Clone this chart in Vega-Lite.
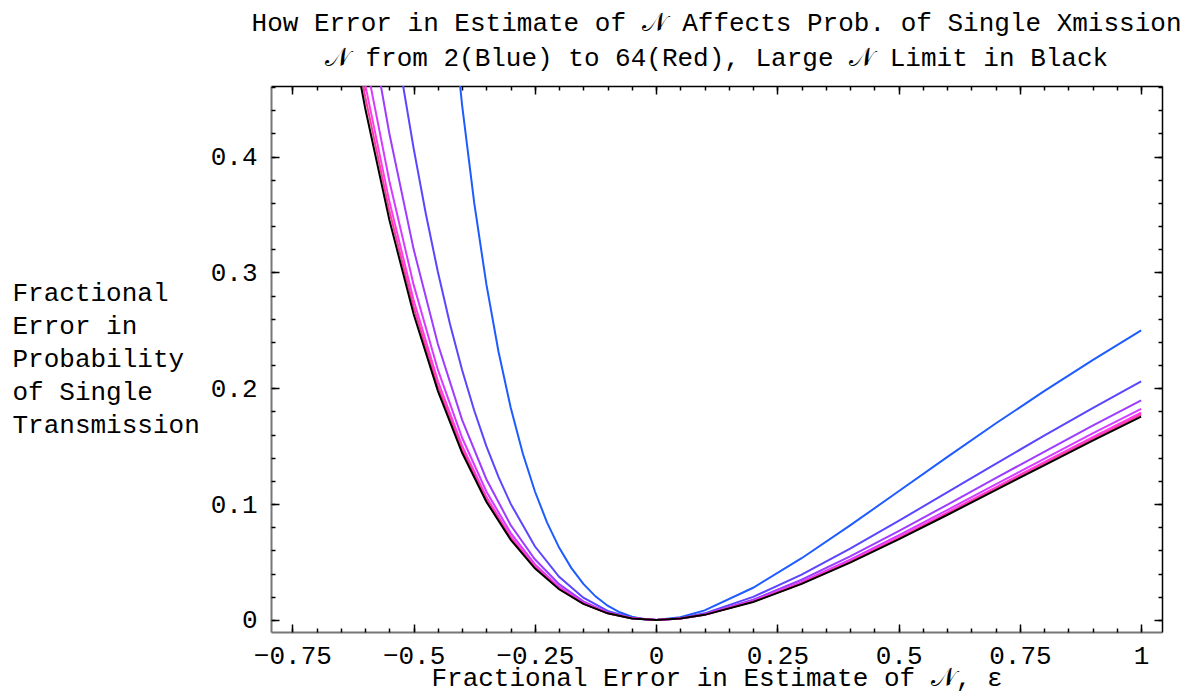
{
  "$schema": "https://vega.github.io/schema/vega-lite/v6.json",
  "width": 891,
  "height": 546,
  "autosize": {"type": "none"},
  "padding": {"left": 271, "top": 86, "right": 24, "bottom": 63},
  "background": "white",
  "config": {
    "view": {"stroke": null},
    "axis": {
      "labelFont": "Liberation Mono", "labelFontSize": 26, "labelColor": "black",
      "titleFont": "Liberation Mono", "titleFontSize": 26, "titleFontWeight": "normal", "titleColor": "black",
      "tickColor": "black", "tickWidth": 1.5, "grid": false, "domainColor": "black",
      "labelFlush": false, "labelOverlap": false, "labelBound": false
    }
  },
  "title": {
    "text": ["How Error in Estimate of 𝒩 Affects Prob. of Single Xmission", "𝒩 from 2(Blue) to 64(Red), Large 𝒩 Limit in Black"],
    "font": "Liberation Mono", "fontSize": 26, "fontWeight": "normal", "color": "black",
    "lineHeight": 35, "anchor": "middle", "offset": 14
  },
  "data": {"values": [
    {"N":"2","eps":-0.45,"err":0.6694},{"N":"2","eps":-0.425,"err":0.5463},{"N":"2","eps":-0.4,"err":0.4444},{"N":"2","eps":-0.375,"err":0.36},
    {"N":"2","eps":-0.35,"err":0.2899},{"N":"2","eps":-0.325,"err":0.2318},{"N":"2","eps":-0.3,"err":0.1837},{"N":"2","eps":-0.275,"err":0.1439},
    {"N":"2","eps":-0.25,"err":0.1111},{"N":"2","eps":-0.225,"err":0.0843},{"N":"2","eps":-0.2,"err":0.0625},{"N":"2","eps":-0.175,"err":0.045},
    {"N":"2","eps":-0.15,"err":0.0311},{"N":"2","eps":-0.125,"err":0.0204},{"N":"2","eps":-0.1,"err":0.0123},{"N":"2","eps":-0.075,"err":0.0066},
    {"N":"2","eps":-0.05,"err":0.0028},{"N":"2","eps":-0.025,"err":0.0007},{"N":"2","eps":0,"err":0},{"N":"2","eps":0.05,"err":0.0023},
    {"N":"2","eps":0.1,"err":0.0083},{"N":"2","eps":0.2,"err":0.0278},{"N":"2","eps":0.3,"err":0.0533},{"N":"2","eps":0.4,"err":0.0816},
    {"N":"2","eps":0.5,"err":0.1111},{"N":"2","eps":0.6,"err":0.1406},{"N":"2","eps":0.7,"err":0.1696},{"N":"2","eps":0.8,"err":0.1975},
    {"N":"2","eps":0.9,"err":0.2244},{"N":"2","eps":1,"err":0.25},

    {"N":"4","eps":-0.55,"err":0.5376},{"N":"4","eps":-0.525,"err":0.4696},{"N":"4","eps":-0.5,"err":0.4074},{"N":"4","eps":-0.475,"err":0.3511},
    {"N":"4","eps":-0.45,"err":0.3006},{"N":"4","eps":-0.425,"err":0.2556},{"N":"4","eps":-0.4,"err":0.2158},{"N":"4","eps":-0.375,"err":0.1808},
    {"N":"4","eps":-0.35,"err":0.1501},{"N":"4","eps":-0.325,"err":0.1235},{"N":"4","eps":-0.3,"err":0.1004},{"N":"4","eps":-0.25,"err":0.0636},
    {"N":"4","eps":-0.2,"err":0.0372},{"N":"4","eps":-0.15,"err":0.0192},{"N":"4","eps":-0.1,"err":0.0078},{"N":"4","eps":-0.05,"err":0.0018},
    {"N":"4","eps":0,"err":0},{"N":"4","eps":0.05,"err":0.0015},{"N":"4","eps":0.1,"err":0.0057},{"N":"4","eps":0.2,"err":0.0199},
    {"N":"4","eps":0.3,"err":0.0392},{"N":"4","eps":0.4,"err":0.0616},{"N":"4","eps":0.5,"err":0.0855},{"N":"4","eps":0.6,"err":0.1101},
    {"N":"4","eps":0.7,"err":0.1348},{"N":"4","eps":0.8,"err":0.1591},{"N":"4","eps":0.9,"err":0.1829},{"N":"4","eps":1,"err":0.206},

    {"N":"8","eps":-0.65,"err":0.6699},{"N":"8","eps":-0.6,"err":0.5378},{"N":"8","eps":-0.55,"err":0.42},{"N":"8","eps":-0.5,"err":0.3202},
    {"N":"8","eps":-0.45,"err":0.2383},{"N":"8","eps":-0.4,"err":0.1728},{"N":"8","eps":-0.35,"err":0.1215},{"N":"8","eps":-0.3,"err":0.082},
    {"N":"8","eps":-0.25,"err":0.0524},{"N":"8","eps":-0.2,"err":0.0309},{"N":"8","eps":-0.15,"err":0.0161},{"N":"8","eps":-0.1,"err":0.0066},
    {"N":"8","eps":-0.05,"err":0.0015},{"N":"8","eps":0,"err":0},{"N":"8","eps":0.05,"err":0.0013},{"N":"8","eps":0.1,"err":0.005},
    {"N":"8","eps":0.2,"err":0.0175},{"N":"8","eps":0.3,"err":0.0347},{"N":"8","eps":0.4,"err":0.0549},{"N":"8","eps":0.5,"err":0.0767},
    {"N":"8","eps":0.6,"err":0.0994},{"N":"8","eps":0.7,"err":0.1224},{"N":"8","eps":0.8,"err":0.1452},{"N":"8","eps":0.9,"err":0.1677},
    {"N":"8","eps":1,"err":0.1896},

    {"N":"16","eps":-0.65,"err":0.6065},{"N":"16","eps":-0.6,"err":0.4853},{"N":"16","eps":-0.55,"err":0.379},{"N":"16","eps":-0.5,"err":0.2895},
    {"N":"16","eps":-0.45,"err":0.2161},{"N":"16","eps":-0.4,"err":0.1573},{"N":"16","eps":-0.35,"err":0.1109},{"N":"16","eps":-0.3,"err":0.0752},
    {"N":"16","eps":-0.25,"err":0.0482},{"N":"16","eps":-0.2,"err":0.0285},{"N":"16","eps":-0.15,"err":0.0149},{"N":"16","eps":-0.1,"err":0.0061},
    {"N":"16","eps":-0.05,"err":0.0014},{"N":"16","eps":0,"err":0},{"N":"16","eps":0.05,"err":0.0012},{"N":"16","eps":0.1,"err":0.0047},
    {"N":"16","eps":0.2,"err":0.0164},{"N":"16","eps":0.3,"err":0.0328},{"N":"16","eps":0.4,"err":0.052},{"N":"16","eps":0.5,"err":0.073},
    {"N":"16","eps":0.6,"err":0.0948},{"N":"16","eps":0.7,"err":0.117},{"N":"16","eps":0.8,"err":0.1391},{"N":"16","eps":0.9,"err":0.161},
    {"N":"16","eps":1,"err":0.1823},

    {"N":"32","eps":-0.65,"err":0.5791},{"N":"32","eps":-0.6,"err":0.4627},{"N":"32","eps":-0.55,"err":0.3614},{"N":"32","eps":-0.5,"err":0.2763},
    {"N":"32","eps":-0.45,"err":0.2065},{"N":"32","eps":-0.4,"err":0.1505},{"N":"32","eps":-0.35,"err":0.1063},{"N":"32","eps":-0.3,"err":0.0722},
    {"N":"32","eps":-0.25,"err":0.0463},{"N":"32","eps":-0.2,"err":0.0275},{"N":"32","eps":-0.15,"err":0.0144},{"N":"32","eps":-0.1,"err":0.0059},
    {"N":"32","eps":-0.05,"err":0.0014},{"N":"32","eps":0,"err":0},{"N":"32","eps":0.05,"err":0.0012},{"N":"32","eps":0.1,"err":0.0045},
    {"N":"32","eps":0.2,"err":0.016},{"N":"32","eps":0.3,"err":0.0319},{"N":"32","eps":0.4,"err":0.0507},{"N":"32","eps":0.5,"err":0.0712},
    {"N":"32","eps":0.6,"err":0.0927},{"N":"32","eps":0.7,"err":0.1145},{"N":"32","eps":0.8,"err":0.1363},{"N":"32","eps":0.9,"err":0.1578},
    {"N":"32","eps":1,"err":0.1789},

    {"N":"64","eps":-0.65,"err":0.5662},{"N":"64","eps":-0.6,"err":0.4522},{"N":"64","eps":-0.55,"err":0.3532},{"N":"64","eps":-0.5,"err":0.2701},
    {"N":"64","eps":-0.45,"err":0.202},{"N":"64","eps":-0.4,"err":0.1473},{"N":"64","eps":-0.35,"err":0.1042},{"N":"64","eps":-0.3,"err":0.0707},
    {"N":"64","eps":-0.25,"err":0.0455},{"N":"64","eps":-0.2,"err":0.027},{"N":"64","eps":-0.15,"err":0.0141},{"N":"64","eps":-0.1,"err":0.0058},
    {"N":"64","eps":-0.05,"err":0.0014},{"N":"64","eps":0,"err":0},{"N":"64","eps":0.05,"err":0.0012},{"N":"64","eps":0.1,"err":0.0045},
    {"N":"64","eps":0.2,"err":0.0158},{"N":"64","eps":0.3,"err":0.0315},{"N":"64","eps":0.4,"err":0.0501},{"N":"64","eps":0.5,"err":0.0704},
    {"N":"64","eps":0.6,"err":0.0916},{"N":"64","eps":0.7,"err":0.1133},{"N":"64","eps":0.8,"err":0.1349},{"N":"64","eps":0.9,"err":0.1563},
    {"N":"64","eps":1,"err":0.1773},

    {"N":"inf","eps":-0.65,"err":0.554},{"N":"inf","eps":-0.6,"err":0.4422},{"N":"inf","eps":-0.55,"err":0.3454},{"N":"inf","eps":-0.5,"err":0.2642},
    {"N":"inf","eps":-0.45,"err":0.1978},{"N":"inf","eps":-0.4,"err":0.1443},{"N":"inf","eps":-0.35,"err":0.1021},{"N":"inf","eps":-0.3,"err":0.0694},
    {"N":"inf","eps":-0.25,"err":0.0446},{"N":"inf","eps":-0.2,"err":0.0265},{"N":"inf","eps":-0.15,"err":0.0139},{"N":"inf","eps":-0.1,"err":0.0057},
    {"N":"inf","eps":-0.05,"err":0.0013},{"N":"inf","eps":0,"err":0},{"N":"inf","eps":0.05,"err":0.0012},{"N":"inf","eps":0.1,"err":0.0044},
    {"N":"inf","eps":0.2,"err":0.0155},{"N":"inf","eps":0.3,"err":0.0311},{"N":"inf","eps":0.4,"err":0.0495},{"N":"inf","eps":0.5,"err":0.0696},
    {"N":"inf","eps":0.6,"err":0.0906},{"N":"inf","eps":0.7,"err":0.1121},{"N":"inf","eps":0.8,"err":0.1335},{"N":"inf","eps":0.9,"err":0.1548},
    {"N":"inf","eps":1,"err":0.1756}
  ]},
  "layer": [
    {
      "mark": {"type": "line", "clip": true},
      "encoding": {
        "x": {"field": "eps", "type": "quantitative",
          "scale": {"domain": [-0.794, 1.043], "nice": false, "zero": false},
          "axis": {"orient": "bottom", "values": [-0.75, -0.5, -0.25, 0, 0.25, 0.5, 0.75, 1], "format": ".2~f",
            "title": "Fractional Error in Estimate of 𝒩, ε", "titleY": 53, "titleBaseline": "alphabetic",
            "tickSize": -8, "labelPadding": 18, "domainColor": "#777777", "domainWidth": 2}},
        "y": {"field": "err", "type": "quantitative",
          "scale": {"domain": [-0.0104, 0.461], "nice": false, "zero": false},
          "axis": {"orient": "left", "values": [0, 0.1, 0.2, 0.3, 0.4], "format": ".2~f",
            "title": ["Fractional", "Error in", "Probability", "of Single", "Transmission"],
            "titleAngle": 0, "titleAlign": "left", "titleBaseline": "alphabetic", "titleX": -259, "titleY": 214, "titleLineHeight": 33,
            "tickSize": -8, "labelPadding": 22, "domainColor": "#777777", "domainWidth": 2}},
        "color": {"field": "N", "type": "nominal",
          "scale": {"domain": ["2", "4", "8", "16", "32", "64", "inf"],
                    "range": ["#1e5cff", "#5a46ff", "#9e3cff", "#d43cff", "#ff3cec", "#ff3c9e", "#000000"]},
          "legend": null},
        "strokeWidth": {"field": "N", "type": "nominal",
          "scale": {"domain": ["2", "4", "8", "16", "32", "64", "inf"], "range": [2, 2, 2, 2, 2, 2, 2.6]},
          "legend": null}
      }
    },
    {
      "mark": {"type": "point", "opacity": 0, "clip": true},
      "encoding": {
        "x": {"field": "eps", "type": "quantitative",
          "axis": {"orient": "bottom", "values": [-0.75,-0.7,-0.65,-0.6,-0.55,-0.5,-0.45,-0.4,-0.35,-0.3,-0.25,-0.2,-0.15,-0.1,-0.05,0,0.05,0.1,0.15,0.2,0.25,0.3,0.35,0.4,0.45,0.5,0.55,0.6,0.65,0.7,0.75,0.8,0.85,0.9,0.95,1],
            "labels": false, "domain": false, "title": null, "tickSize": -4}},
        "y": {"field": "err", "type": "quantitative",
          "axis": {"orient": "left", "values": [0,0.02,0.04,0.06,0.08,0.1,0.12,0.14,0.16,0.18,0.2,0.22,0.24,0.26,0.28,0.3,0.32,0.34,0.36,0.38,0.4,0.42,0.44,0.46],
            "labels": false, "domain": false, "title": null, "tickSize": -4}}
      }
    },
    {
      "mark": {"type": "point", "opacity": 0, "clip": true},
      "encoding": {
        "x": {"field": "eps", "type": "quantitative",
          "axis": {"orient": "top", "values": [-0.75, -0.5, -0.25, 0, 0.25, 0.5, 0.75, 1],
            "labels": false, "title": null, "tickSize": -8, "domainColor": "black", "domainWidth": 1.5}},
        "y": {"field": "err", "type": "quantitative",
          "axis": {"orient": "right", "values": [0, 0.1, 0.2, 0.3, 0.4],
            "labels": false, "title": null, "tickSize": -8, "domainColor": "black", "domainWidth": 1.5}}
      }
    },
    {
      "mark": {"type": "point", "opacity": 0, "clip": true},
      "encoding": {
        "x": {"field": "eps", "type": "quantitative",
          "axis": {"orient": "top", "values": [-0.75,-0.7,-0.65,-0.6,-0.55,-0.5,-0.45,-0.4,-0.35,-0.3,-0.25,-0.2,-0.15,-0.1,-0.05,0,0.05,0.1,0.15,0.2,0.25,0.3,0.35,0.4,0.45,0.5,0.55,0.6,0.65,0.7,0.75,0.8,0.85,0.9,0.95,1],
            "labels": false, "domain": false, "title": null, "tickSize": -4}},
        "y": {"field": "err", "type": "quantitative",
          "axis": {"orient": "right", "values": [0,0.02,0.04,0.06,0.08,0.1,0.12,0.14,0.16,0.18,0.2,0.22,0.24,0.26,0.28,0.3,0.32,0.34,0.36,0.38,0.4,0.42,0.44,0.46],
            "labels": false, "domain": false, "title": null, "tickSize": -4}}
      }
    }
  ],
  "resolve": {"axis": {"x": "independent", "y": "independent"}}
}
